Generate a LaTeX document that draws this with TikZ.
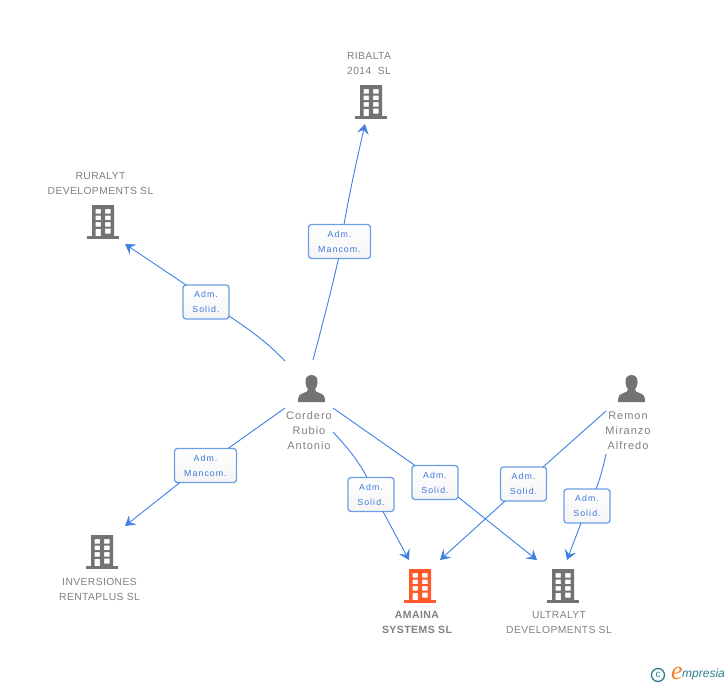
\documentclass[tikz,border=0pt]{standalone}
\usepackage{fontspec}
\setmainfont{Liberation Sans}
\newfontfamily\spacedfont[LetterSpace=4]{Liberation Sans}
\newfontfamily\personfont[LetterSpace=9]{Liberation Sans}
\newfontfamily\boxfont[LetterSpace=12]{Liberation Sans}
\newfontfamily\logoserif{Liberation Serif}
\usetikzlibrary{arrows.meta,shadings}
\definecolor{icongray}{HTML}{737373}
\definecolor{labelgray}{HTML}{808080}
\definecolor{linkblue}{HTML}{3F80E4}
\definecolor{boxedge}{HTML}{6A9FE6}
\definecolor{boxtext}{HTML}{3A78DC}
\definecolor{redicon}{HTML}{FF5A2B}
\definecolor{logoteal}{HTML}{2F7F8F}
\definecolor{logoorange}{HTML}{F58220}
\tikzset{
  x=1pt,y=-1pt,
  entity/.style={inner sep=0pt,align=center,text=labelgray,font=\spacedfont\fontsize{10.3}{15}\selectfont},
  personlabel/.style={entity,font=\personfont\fontsize{11}{15}\selectfont},
  relbox/.style={draw=boxedge,line width=1.3pt,rounded corners=3pt,top color=white,bottom color=black!4,
     inner sep=0pt,align=center,text=boxtext,font=\boxfont\fontsize{8.8}{15}\selectfont},
  link/.style={draw=linkblue,line width=0.9pt},
  arrowlink/.style={link,-{Stealth[length=10pt,width=12pt,inset=4pt]}},
  pics/building/.style={code={
    \fill[#1,even odd rule]
      (-11,0) rectangle (11,31)
      (-7.5,4) rectangle (-2.2,8.5) (2.2,4) rectangle (7.7,8.5)
      (-7.5,10.5) rectangle (-2.2,15.2) (2.2,10.5) rectangle (7.7,15.2)
      (-7.5,17.2) rectangle (-2.2,21.5) (2.2,17.2) rectangle (7.7,21.5)
      (-7.5,23.8) rectangle (-2.2,31) (2.2,23.5) rectangle (7.7,28.5);
    \fill[#1] (-16,31) rectangle (16,34);
  }},
  pics/person/.style={code={
    \fill[icongray] (0,0) .. controls (-5,0) and (-6.5,4) .. (-6,8) .. controls (-5.7,11) and (-4.5,13) .. (-3.5,14.5)
      .. controls (-3.5,16.5) and (-5,17) .. (-8,18) .. controls (-12,19.5) and (-13.5,20.5) .. (-13.5,27)
      -- (13.5,27) .. controls (13.5,20.5) and (12,19.5) .. (8,18) .. controls (5,17) and (3.5,16.5) .. (3.5,14.5)
      .. controls (4.5,13) and (5.7,11) .. (6,8) .. controls (6.5,4) and (5,0) .. (0,0) -- cycle;
  }}
}
\begin{document}
\begin{tikzpicture}
\useasboundingbox (0,0) rectangle (728,685);
% icons
\pic at (371,85) {building=icongray};
\pic at (103,205) {building=icongray};
\pic at (102,535) {building=icongray};
\pic at (420,569) {building=redicon};
\pic at (563,569) {building=icongray};
\pic at (311.5,375) {person};
\pic at (631.5,375) {person};
% entity labels
\node[entity] (ribalta) at (369,64) {RIBALTA\\2014\ \ SL};
\node[entity] (ruralyt) at (100.5,184) {RURALYT\\DEVELOPMENTS SL};
\node[entity] (inversiones) at (99.5,589) {INVERSIONES\\RENTAPLUS SL};
\node[entity,font=\spacedfont\bfseries\fontsize{10.5}{15}\selectfont] (amaina) at (417,622.5) {AMAINA\\SYSTEMS SL};
\node[entity] (ultralyt) at (559,623) {ULTRALYT\\DEVELOPMENTS SL};
\node[personlabel] (cordero) at (309,431) {Cordero\\Rubio\\Antonio};
\node[personlabel] (remon) at (628,431) {Remon\\Miranzo\\Alfredo};
% relation boxes
\node[relbox,minimum width=62pt,minimum height=34pt] (b1) at (339.5,241.5) {Adm.\\Mancom.};
\node[relbox,minimum width=46pt,minimum height=34pt] (b2) at (206,302) {Adm.\\Solid.};
\node[relbox,minimum width=62pt,minimum height=34pt] (b3) at (205.5,465.5) {Adm.\\Mancom.};
\node[relbox,minimum width=46pt,minimum height=34pt] (b4) at (371,494.5) {Adm.\\Solid.};
\node[relbox,minimum width=46pt,minimum height=34pt] (b5) at (435,482.5) {Adm.\\Solid.};
\node[relbox,minimum width=46pt,minimum height=34pt] (b6) at (523.5,484) {Adm.\\Solid.};
\node[relbox,minimum width=46pt,minimum height=34pt] (b7) at (587,506) {Adm.\\Solid.};
% free ends of the connectors
\coordinate (c1) at (313,360);
\coordinate (c2) at (285,361);
\coordinate (c3) at (285,408);
\coordinate (c4) at (333,432);
\coordinate (c5) at (333,408);
\coordinate (r6) at (606,411);
\coordinate (r7) at (606,454);
\coordinate (t1) at (365,124);
\coordinate (t2) at (125,244);
\coordinate (t3) at (125,526);
\coordinate (t4) at (409,560);
\coordinate (t5) at (537,560);
\coordinate (t6) at (440,560);
\coordinate (t7) at (567,560);
\coordinate (b1in) at (338.5,258.5);
\coordinate (b1out) at (344,224.5);
\coordinate (b2in) at (229,316);
\coordinate (b2out) at (186,285);
\coordinate (b3in) at (228,448.5);
\coordinate (b3out) at (180,482.5);
\coordinate (b4in) at (367,477.5);
\coordinate (b4out) at (383,511.5);
\coordinate (b5in) at (415,465.5);
\coordinate (b5out) at (458,497);
\coordinate (b6in) at (543,467);
\coordinate (b6out) at (505,501);
\coordinate (b7in) at (596,489);
\coordinate (b7out) at (581,523);
% connectors
\path[link] (c1) .. controls (322,326) and (331,292) .. (b1in);
\path[arrowlink] (b1out) .. controls (350,190) and (358,155) .. (t1);
\path[link] (c2) .. controls (268,343) and (250,330) .. (b2in);
\path[arrowlink] (b2out) -- (t2);
\path[link] (c3) -- (b3in);
\path[arrowlink] (b3out) -- (t3);
\path[link] (c4) .. controls (347,447) and (358,460) .. (b4in);
\path[arrowlink] (b4out) -- (t4);
\path[link] (c5) -- (b5in);
\path[arrowlink] (b5out) -- (t5);
\path[link] (r6) -- (b6in);
\path[arrowlink] (b6out) -- (t6);
\path[link] (r7) .. controls (603,468) and (600,479) .. (b7in);
\path[arrowlink] (b7out) -- (t7);
% logo
\node[circle,draw=logoteal,line width=1.3pt,minimum size=13pt,inner sep=0pt,text=logoteal,font=\fontsize{10}{10}\selectfont] (copy) at (658,675) {c};
\node[inner sep=0pt,text=logoorange,font=\logoserif\itshape\fontsize{26}{26}\selectfont] (logoe) at (677,673) {e};
\node[inner sep=0pt,anchor=west,text=logoteal,font=\itshape\fontsize{12}{13}\selectfont] (logotext) at (682,674) {mpresia};
\end{tikzpicture}
\end{document}
